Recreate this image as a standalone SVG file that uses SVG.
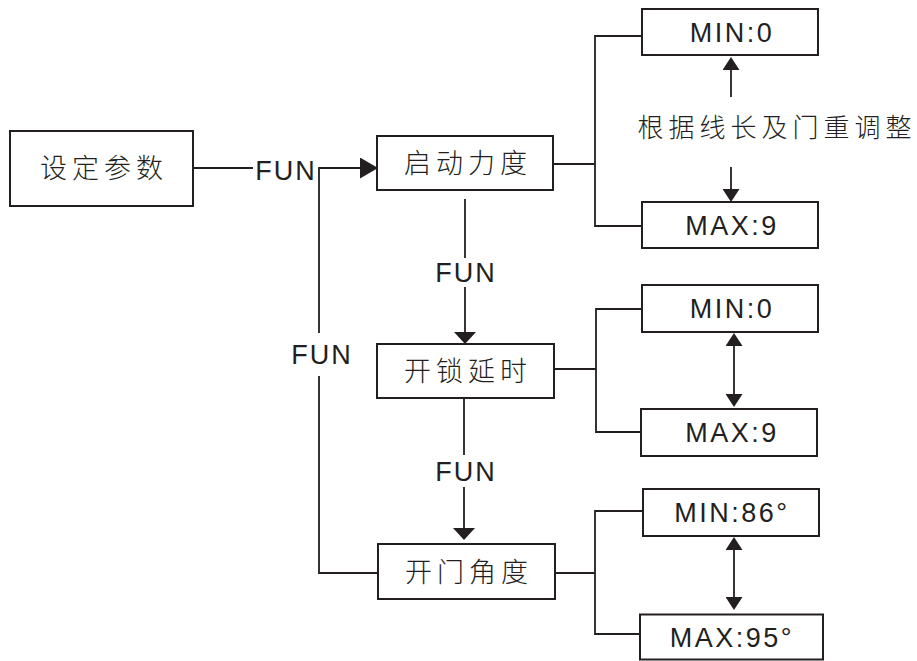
<svg xmlns="http://www.w3.org/2000/svg" width="917" height="661" viewBox="0 0 917 661">
<style>
.box{fill:#fff;stroke:#231f20;stroke-width:2}
.ln{fill:none;stroke:#231f20;stroke-width:1.8}
.cn{font-family:"Noto Sans CJK SC","Noto Sans",sans-serif;font-size:27px;font-weight:300;fill:#231f20;text-anchor:middle;letter-spacing:5px}
.en{font-family:"Liberation Sans",Arial,sans-serif;font-size:27px;fill:#231f20;text-anchor:middle;letter-spacing:2px}
.vl{font-family:"Liberation Sans",Arial,sans-serif;font-size:27px;fill:#231f20;text-anchor:middle;letter-spacing:2.5px}
</style>
<defs>
<marker id="ah" viewBox="0 0 13 17" refX="0" refY="8.5" markerWidth="13" markerHeight="17" markerUnits="userSpaceOnUse" orient="auto-start-reverse"><path d="M0,0 L13,8.5 L0,17 z" fill="#231f20"/></marker>
<marker id="ahd" viewBox="0 0 12 22" refX="0" refY="11" markerWidth="12" markerHeight="22" markerUnits="userSpaceOnUse" orient="auto"><path d="M0,0 L12,11 L0,22 z" fill="#231f20"/></marker>
<marker id="ahr" viewBox="0 0 18 21" refX="0" refY="10.5" markerWidth="18" markerHeight="21" markerUnits="userSpaceOnUse" orient="auto"><path d="M0,0 L18,10.5 L0,21 z" fill="#231f20"/></marker>
</defs>
<g id="connectors">
<line class="ln" x1="193" y1="168" x2="253" y2="168"/>
<path class="ln" d="M319,333 V168 H360" marker-end="url(#ahr)"/>
<path class="ln" d="M378,573 H319 V376"/>
<line class="ln" x1="465" y1="199" x2="465" y2="258"/>
<line class="ln" x1="465" y1="287" x2="465" y2="332" marker-end="url(#ahd)"/>
<line class="ln" x1="464" y1="398" x2="464" y2="455"/>
<line class="ln" x1="464" y1="487" x2="464" y2="528" marker-end="url(#ahd)"/>
<path class="ln" d="M553,164 H595 M642,36 H595 V226 H642"/>
<path class="ln" d="M554,369 H596 M642,309 H596 V432 H641"/>
<path class="ln" d="M555,573 H595 M643,511 H595 V634 H640"/>
<line class="ln" x1="731" y1="97" x2="731" y2="70" marker-end="url(#ah)"/>
<line class="ln" x1="731" y1="167" x2="731" y2="189" marker-end="url(#ah)"/>
<line class="ln" x1="734" y1="346" x2="734" y2="394" marker-start="url(#ah)" marker-end="url(#ah)"/>
<line class="ln" x1="734" y1="550" x2="734" y2="597" marker-start="url(#ah)" marker-end="url(#ah)"/>
<text class="en" x="286" y="180">FUN</text>
<text class="en" x="322" y="364">FUN</text>
<text class="en" x="466" y="282">FUN</text>
<text class="en" x="466" y="481">FUN</text>
<text class="cn" x="777" y="137" style="font-size:26px;letter-spacing:5px">根据线长及门重调整</text>
</g>
<g id="n-set"><rect class="box" x="10" y="131" width="183" height="75"/><text class="cn" x="104" y="178">设定参数</text></g>
<g id="n-force"><rect class="box" x="377" y="136" width="176" height="54"/><text class="cn" x="468" y="173">启动力度</text></g>
<g id="n-delay"><rect class="box" x="377" y="344" width="177" height="54"/><text class="cn" x="468" y="381">开锁延时</text></g>
<g id="n-angle"><rect class="box" x="378" y="544" width="177" height="55"/><text class="cn" x="469" y="582">开门角度</text></g>
<g id="n-min1"><rect class="box" x="642" y="9" width="176" height="46"/><text class="vl" x="732" y="42">MIN:0</text></g>
<g id="n-max1"><rect class="box" x="642" y="202" width="176" height="46"/><text class="vl" x="732" y="235">MAX:9</text></g>
<g id="n-min2"><rect class="box" x="642" y="285" width="176" height="47"/><text class="vl" x="732" y="318">MIN:0</text></g>
<g id="n-max2"><rect class="box" x="641" y="409" width="176" height="47"/><text class="vl" x="732" y="442">MAX:9</text></g>
<g id="n-min3"><rect class="box" x="643" y="489" width="176" height="47"/><text class="vl" x="732" y="522">MIN:86°</text></g>
<g id="n-max3"><rect class="box" x="640" y="614.5" width="183" height="45"/><text class="vl" x="732" y="647">MAX:95°</text></g>
</svg>
